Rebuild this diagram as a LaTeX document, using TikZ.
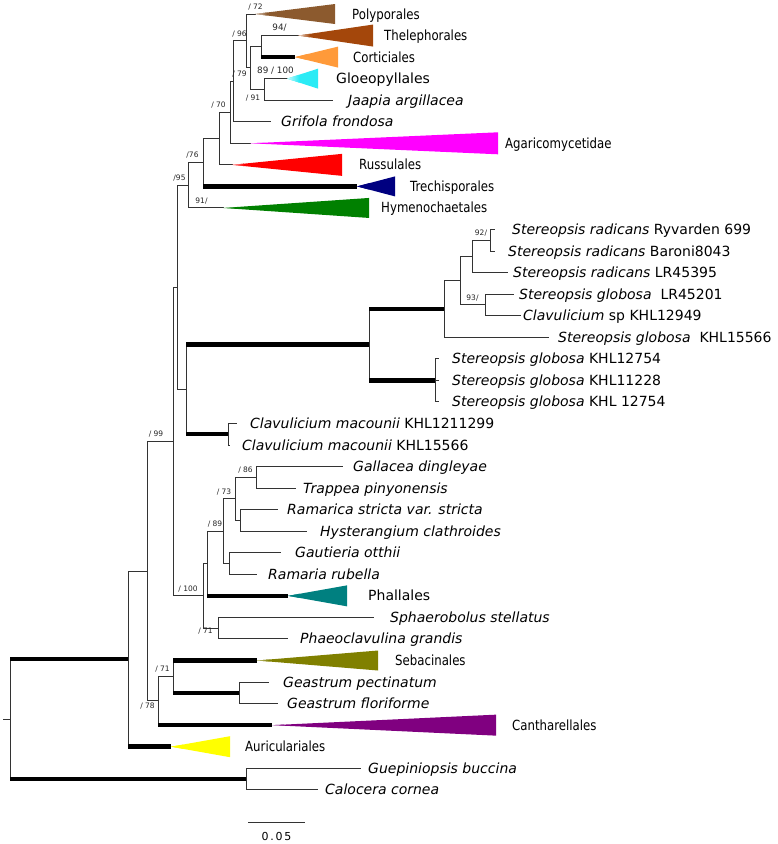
\documentclass[tikz,border=0pt]{standalone}
\usepackage{fontspec}
\setmainfont{DejaVu Sans}
\newfontfamily\cladefont[FakeStretch=0.84]{DejaVu Sans}
\usetikzlibrary{calc}
\definecolor{polybrown}{HTML}{8C5A2E}
\definecolor{thelebrown}{HTML}{A4470B}
\definecolor{cortorange}{HTML}{FF9A3A}
\definecolor{gloeocyan}{HTML}{2BEBF5}
\definecolor{agarmagenta}{HTML}{FF00FF}
\definecolor{russred}{HTML}{FF0000}
\definecolor{trechnavy}{HTML}{000080}
\definecolor{hymgreen}{HTML}{008000}
\definecolor{phallteal}{HTML}{008080}
\definecolor{sebolive}{HTML}{808000}
\definecolor{cantpurple}{HTML}{800080}
\definecolor{auricyellow}{HTML}{FFFF00}
\tikzset{
  br/.style={line width=1pt, draw=black!80, line cap=rect},
  thickbr/.style={line width=4.5pt, draw=black},
  leaf/.style={anchor=base west, inner sep=0pt, yshift=-5pt, font=\fontsize{14}{16}\selectfont},
  clade/.style={leaf, font=\cladefont\fontsize{14}{16}\selectfont},
  bs/.style={above=3.5pt, inner sep=0pt, text=black!85, font=\fontsize{7.5}{8}\selectfont},
  bsbelow/.style={bs, below=3pt},
  bsbig/.style={bs, font=\fontsize{8.8}{9}\selectfont}
}
% collapsed clade: [apex tint], apex, length, half-height, colour
\newcommand{\collapsed}[5][20]{%
  \fill[#5] (#2) -- ++(#3,-#4) -- ++(0,{2*#4}) -- cycle;
  \shade[left color=#5!#1, right color=#5] (#2) -- ++(12,{-#4*12/#3}) -- ++(0,{2*#4*12/#3}) -- cycle;
}

\begin{document}
\begin{tikzpicture}[x=1pt, y=-1pt]
  \useasboundingbox (0,0) rectangle (778,844);

  % leaf spacing
  \def\dy{21.55}

  % branch tips
  \foreach \i/\tx in {1/255, 2/298, 3/295, 4/287, 5/332, 6/270, 7/250, 8/232,
    9/357, 10/223, 11/494, 12/494, 13/507, 14/513, 15/520, 16/548, 17/438,
    18/438, 19/438, 20/236, 21/229, 22/342, 23/295, 24/277, 25/306, 26/280,
    27/256, 28/288, 29/373, 30/287, 31/257, 32/268, 33/277, 34/272, 35/171,
    36/360, 37/317}{
    \coordinate (l\i) at (\tx, {14+(\i-1)*\dy});
  }

  % internal nodes
  \coordinate (rtick)   at (3, 719);
  \coordinate (root)    at (10, 719);
  \coordinate (nAur)    at (128, 658.97);
  \coordinate (nMain)   at (147, 571.25);
  \coordinate (nUpper)  at (173, 441.59);
  \coordinate (nAgar)   at (177, 287.33);
  \coordinate (nHym)    at (188, 185.22);
  \coordinate (nTrech)  at (203, 162.49);
  \coordinate (nRuss)   at (219, 138.59);
  \coordinate (nAgd)    at (230, 112.32);
  \coordinate (nGrif)   at (233, 81.34);
  \coordinate (nPoly)   at (246, 40.94);
  \coordinate (nThGl)   at (250, 67.88);
  \coordinate (nThel)   at (261, 46.33);
  \coordinate (nGloeo)  at (264, 89.43);
  \coordinate (nStClav) at (186, 389.44);
  \coordinate (nStereo) at (369, 344.66);
  \coordinate (nSt1)    at (444, 308.97);
  \coordinate (nSt2)    at (460, 280.68);
  \coordinate (nRad)    at (472, 256.44);
  \coordinate (nRad2)   at (490, 240.28);
  \coordinate (nGlob)   at (485, 304.93);
  \coordinate (nGlob3)  at (435, 380.35);
  \coordinate (nMac)    at (228, 434.22);
  \coordinate (nPhall)  at (203, 595.85);
  \coordinate (nGom)    at (207, 563.53);
  \coordinate (nGom2)   at (223, 531.2);
  \coordinate (nGall)   at (235, 498.88);
  \coordinate (nTrap)   at (256, 477.33);
  \coordinate (nHyst)   at (240, 520.43);
  \coordinate (nGaut)   at (229, 563.53);
  \coordinate (nSphae)  at (218, 628.18);
  \coordinate (nCant)   at (158, 700.9);
  \coordinate (nSeb)    at (173, 676.66);
  \coordinate (nGeast)  at (239, 692.83);
  \coordinate (nDacr)   at (246, 779.03);

  % verticals
  \foreach \p/\a/\b in {root/nAur/nDacr, nAur/nMain/l35, nMain/nUpper/nCant,
    nCant/nSeb/l34, nSeb/l31/nGeast, nGeast/l32/l33, nDacr/l36/l37,
    nUpper/nAgar/nPhall, nPhall/nGom/nSphae, nSphae/l29/l30, nGom/nGom2/l28,
    nGom2/nGall/nGaut, nGall/nTrap/nHyst, nTrap/l22/l23, nHyst/l24/l25,
    nGaut/l26/l27, nAgar/nHym/nStClav, nStClav/nStereo/nMac, nMac/l20/l21,
    nStereo/nSt1/nGlob3, nGlob3/l17/l19, nSt1/nSt2/l16, nSt2/nRad/nGlob,
    nRad/nRad2/l13, nRad2/l11/l12, nGlob/l14/l15, nHym/nTrech/l10,
    nTrech/nRuss/l9, nRuss/nAgd/l8, nAgd/nGrif/l7, nGrif/nPoly/l6,
    nPoly/l1/nThGl, nThGl/nThel/nGloeo, nThel/l2/l3, nGloeo/l4/l5}{
    \draw[br] (\p |- \a) -- (\p |- \b);
  }

  % thin branches
  \draw[br] (rtick) -- (root);
  \foreach \p/\c in {nAur/nMain, nGeast/l32, nGeast/l33, nDacr/l36, nDacr/l37,
    nUpper/nAgar, nPhall/nGom, nSphae/l29, nSphae/l30, nGom2/nGaut,
    nGall/nHyst, nTrap/l22, nTrap/l23, nHyst/l24, nHyst/l25, nGaut/l26,
    nGaut/l27, nAgar/nStClav, nMac/l20, nMac/l21, nGlob3/l17, nGlob3/l18,
    nGlob3/l19, nSt1/nSt2, nSt1/l16, nSt2/nRad, nRad/l13, nRad2/l11,
    nRad2/l12, nGlob/l14, nGlob/l15, nTrech/nRuss, nRuss/l8, nAgd/l7,
    nGrif/l6, nPoly/nThGl, nThGl/nThel, nGloeo/l5}{
    \draw[br] (\p |- \c) -- (\c);
  }

  % thick branches
  \foreach \p/\c in {root/nAur, root/nDacr, nAur/l35, nCant/l34, nSeb/l31,
    nSeb/nGeast, nGom/l28, nStClav/nStereo, nStClav/nMac, nStereo/nSt1,
    nStereo/nGlob3, nTrech/l9, nThel/l3}{
    \draw[thickbr] (\p |- \c) -- (\c);
  }

  % branches with support values
  \draw[br] (nMain |- nUpper) -- node[bs, xshift=-4pt] (s99) {/ 99} (nUpper);
  \draw[br] (nMain |- nCant) -- node[bsbelow, below=2pt, xshift=-5pt] (s78) {/ 78} (nCant);
  \draw[br] (nCant |- nSeb) -- node[bs, xshift=-3pt] (s71b) {/ 71} (nSeb);
  \draw[br] (nUpper |- nPhall) -- node[bs] (s100) {/ 100} (nPhall);
  \draw[br] (nPhall |- nSphae) -- node[bsbelow, xshift=-5pt] (s71a) {/ 71} (nSphae);
  \draw[br] (nGom |- nGom2) -- node[bs] (s89) {/ 89} (nGom2);
  \draw[br] (nGom2 |- nGall) -- node[bs, xshift=-5pt] (s73) {/ 73} (nGall);
  \draw[br] (nGall |- nTrap) -- node[bs] (s86) {/ 86} (nTrap);
  \draw[br] (nAgar |- nHym) -- node[bs, xshift=-3pt] (s95) {/95} (nHym);
  \draw[br] (nSt2 |- nGlob) -- node[bs] (s93) {93/} (nGlob);
  \draw[br] (nRad |- nRad2) -- node[bs] (s92) {92/} (nRad2);
  \draw[br] (nHym |- nTrech) -- node[bs, xshift=-3pt] (s76) {/76} (nTrech);
  \draw[br] (nHym |- l10) -- node[bs, xshift=-4pt] (s91a) {91/} (l10);
  \draw[br] (nRuss |- nAgd) -- node[bs, xshift=-6pt] (s70) {/ 70} (nAgd);
  \draw[br] (nAgd |- nGrif) -- node[bs, xshift=8pt] (s79) {/ 79} (nGrif);
  \draw[br] (nGrif |- nPoly) -- node[bs] (s96) {/ 96} (nPoly);
  \draw[br] (nPoly |- l1) -- node[bs, xshift=5pt] (s72) {/ 72} (l1);
  \draw[br] (nThGl |- nGloeo) -- node[bsbelow, below=6pt, xshift=-4pt] (s91b) {/ 91} (nGloeo);
  \draw[br] (nThel |- l2) -- node[bsbig] (s94) {94/} (l2);
  \draw[br] (nGloeo |- l4) -- node[bsbig] (s89b) {89 / 100} (l4);

  % collapsed clades
  \collapsed{l1}{80}{10}{polybrown}
  \collapsed{l2}{75}{11}{thelebrown}
  \collapsed[100]{l3}{43}{10.5}{cortorange}
  \collapsed{l4}{31}{10}{gloeocyan}
  \collapsed{l7}{248}{11}{agarmagenta}
  \collapsed{l8}{110}{11}{russred}
  \collapsed[100]{l9}{38}{10}{trechnavy}
  \collapsed{l10}{146}{10}{hymgreen}
  \collapsed[100]{l28}{59}{10.5}{phallteal}
  \collapsed[50]{l31}{121}{10}{sebolive}
  \collapsed[30]{l34}{224}{10.5}{cantpurple}
  \collapsed[100]{l35}{59}{10.5}{auricyellow}

  % clade names
  \foreach \i/\lx/\txt in {1/352/Polyporales, 2/384/Thelephorales,
    3/353/Corticiales, 7/505/Agaricomycetidae, 8/359/Russulales,
    9/410/Trechisporales, 10/381/Hymenochaetales, 31/395/Sebacinales,
    34/512/Cantharellales, 35/245/Auriculariales}{
    \node[clade] (t\i) at (\lx, {14+(\i-1)*\dy}) {\txt};
  }
  \node[leaf] (t4) at (336, {14+3*\dy}) {Gloeopyllales};
  \node[leaf] (t28) at (368, {14+27*\dy}) {Phallales};

  % taxon names
  \foreach \i/\lx/\txt in {
    5/348/{\textit{Jaapia argillacea}},
    6/281/{\textit{Grifola frondosa}},
    11/512/{\textit{Stereopsis radicans} Ryvarden 699},
    12/508/{\textit{Stereopsis radicans} Baroni8043},
    13/513/{\textit{Stereopsis radicans} LR45395},
    14/519/{\textit{Stereopsis globosa}\ \ LR45201},
    15/523/{\textit{Clavulicium} sp KHL12949},
    16/558/{\textit{Stereopsis globosa}\ \ KHL15566},
    17/452/{\textit{Stereopsis globosa} KHL12754},
    18/452/{\textit{Stereopsis globosa} KHL11228},
    19/452/{\textit{Stereopsis globosa} KHL 12754},
    20/250/{\textit{Clavulicium macounii} KHL1211299},
    21/242/{\textit{Clavulicium macounii} KHL15566},
    22/353/{\textit{Gallacea dingleyae}},
    23/303/{\textit{Trappea pinyonensis}},
    24/287/{\textit{Ramarica stricta var. stricta}},
    25/320/{\textit{Hysterangium clathroides}},
    26/295/{\textit{Gautieria otthii}},
    27/268/{\textit{Ramaria rubella}},
    29/390/{\textit{Sphaerobolus stellatus}},
    30/300/{\textit{Phaeoclavulina grandis}},
    32/283/{\textit{Geastrum pectinatum}},
    33/287/{\textit{Geastrum floriforme}},
    36/368/{\textit{Guepiniopsis buccina}},
    37/325/{\textit{Calocera cornea}}}{
    \node[leaf] (t\i) at (\lx, {14+(\i-1)*\dy}) {\txt};
  }

  % scale bar
  \coordinate (sbl) at (248, 822);
  \coordinate (sbr) at (304, 822);
  \draw[br] (sbl) -- (sbr);
  \node[inner sep=0pt, font=\fontsize{11}{12}\selectfont] (sblab) at (276.5, 836) {0\,.\,0\,5};
\end{tikzpicture}
\end{document}
